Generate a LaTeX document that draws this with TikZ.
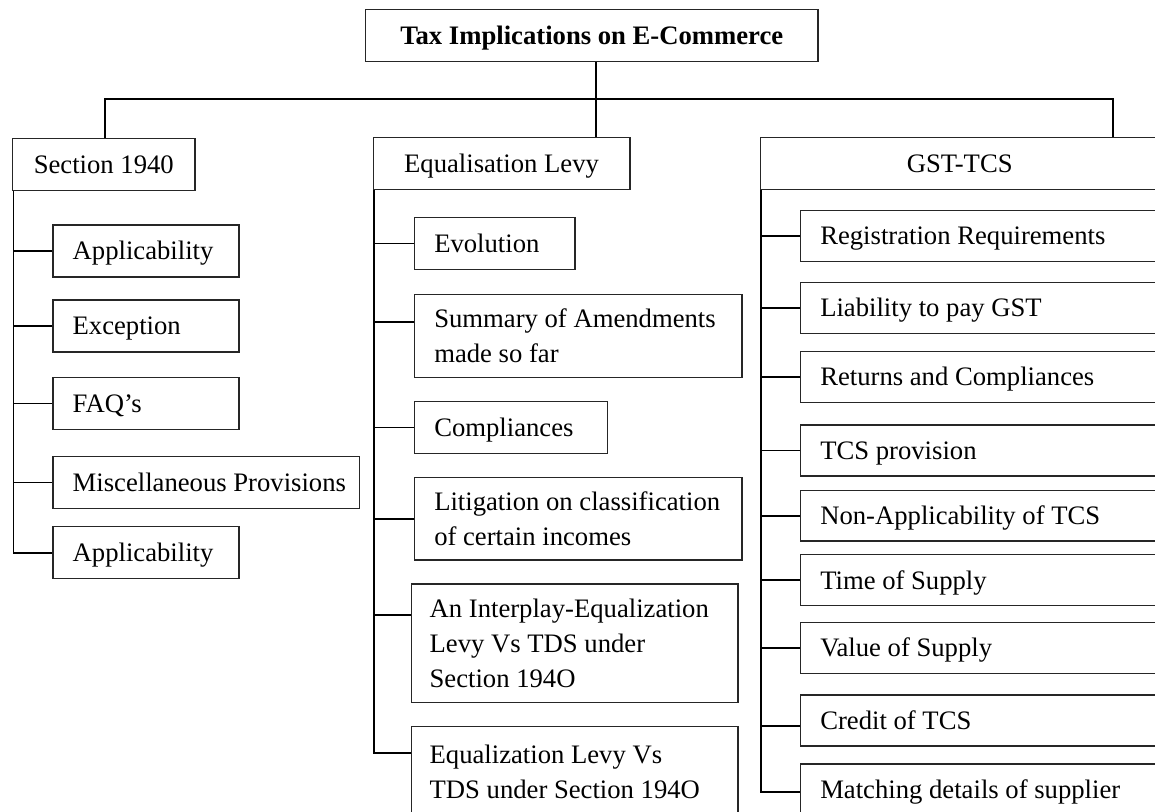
\documentclass[tikz,border=0pt]{standalone}
\usepackage{fontspec}
\setmainfont{Liberation Serif}
\usetikzlibrary{calc}
\begin{document}
\begin{tikzpicture}[x=0.75pt,y=-0.75pt,
  every node/.style={font=\fontsize{20}{26}\selectfont},
  box/.style 2 args={draw=black!85, line width=1.1pt, anchor=north west,
    inner sep=0pt, minimum width=#1, minimum height=#2,
    text height=15pt, text depth=1.8pt},
  lbl/.style={anchor=west, align=left, inner sep=0pt,
    text height=15pt, text depth=1.8pt},
  lbls/.style={anchor=west, align=left, inner sep=0pt},
  conn/.style={draw=black, line width=1.3pt}]
\useasboundingbox (0,0) rectangle (1155,812);
\fill[white] (0,0) rectangle (1155,812);
\clip (0,0) rectangle (1155,812);

% top level
\node[box={339.5pt}{39pt}] (title) at (364.7,9) {\textbf{Tax Implications on E-Commerce}};
\node[box={137pt}{39pt}] (sec) at (11.7,137.7) {Section 1940};
\node[box={192.4pt}{39pt}] (eq) at (372.5,136.7) {Equalisation Levy};
\node[box={299.25pt}{39pt}] (gst) at (759.5,136.7) {GST-TCS};

% bus between the title and the three heads
\coordinate (busL) at (105,99.3);
\coordinate (busM) at (595.7,99.3);
\coordinate (busR) at (1113,99.3);
\draw[conn] (busL |- sec.north) -- (busL) -- (busR) -- (busR |- gst.north);
\draw[conn] (busM |- title.south) -- (busM |- eq.north);

% Section 194O branch
\node[box={139.5pt}{39pt}] (app1) at (52.4,224.3) {};
\node[box={139.5pt}{39pt}] (exc)  at (52.4,299.3) {};
\node[box={139.5pt}{39pt}] (faq)  at (52.4,376.7) {};
\node[box={229.6pt}{39pt}] (misc) at (52.4,455.7) {};
\node[box={139.5pt}{39pt}] (app2) at (52.4,526) {};
\node[lbl] (app1t) at ([xshift=15pt]app1.west) {Applicability};
\node[lbl] (exct)  at ([xshift=15pt]exc.west) {Exception};
\node[lbl] (faqt)  at ([xshift=15pt]faq.west) {FAQ’s};
\node[lbl] (misct) at ([xshift=15pt]misc.west) {Miscellaneous Provisions};
\node[lbl] (app2t) at ([xshift=15pt]app2.west) {Applicability};

\coordinate (secT) at ($(sec.south west)+(1.7,0)$);
\draw[conn] (secT) -- (secT |- app2.west) -- (app2.west);
\foreach \n in {app1,exc,faq,misc}
  \draw[conn] (\n.west) -- (\n.west -| secT);

% Equalisation Levy branch
\node[box={120.2pt}{38.8pt}] (evo)   at (414,217) {};
\node[box={245.3pt}{62pt}]   (sum)   at (414,294) {};
\node[box={144.5pt}{39pt}]   (comp)  at (414,400.7) {};
\node[box={245.3pt}{62pt}]   (lit)   at (414,476.7) {};
\node[box={245pt}{89pt}]     (inter) at (410.7,583.3) {};
\node[box={245pt}{67.7pt}]   (eqvs)  at (410.7,725.7) {};
\node[lbl]  (evot)   at ([xshift=15pt]evo.west) {Evolution};
\node[lbls] (sumt)   at ([xshift=15pt]sum.west) {Summary of Amendments\\made so far};
\node[lbl]  (compt)  at ([xshift=15pt]comp.west) {Compliances};
\node[lbls] (litt)   at ([xshift=15pt]lit.west) {Litigation on classification\\of certain incomes};
\node[lbls] (intert) at ([xshift=14pt]inter.west) {An Interplay-Equalization\\Levy Vs TDS under\\Section 194O};
\node[lbls] (eqvst)  at ([xshift=14pt]eqvs.west) {Equalization Levy Vs\\TDS under Section 194O};

\coordinate (eqT) at ($(eq.south west)+(1.5,0)$);
\coordinate (sumJ) at ($(sum.north west)+(0,27.7)$);
\coordinate (interJ) at ($(inter.north west)+(0,31.7)$);
\coordinate (eqvsJ) at ($(eqvs.north west)+(0,27.6)$);
\draw[conn] (eqT) -- (eqT |- eqvsJ) -- (eqvsJ);
\foreach \n in {evo.west,sumJ,comp.west,lit.west,interJ}
  \draw[conn] (\n) -- (\n -| eqT);

% GST-TCS branch
\node[box={273.75pt}{38.2pt}] (reg)    at (800,210) {};
\node[box={273.75pt}{38.2pt}] (liab)   at (800,282) {};
\node[box={273.75pt}{38.2pt}] (ret)    at (800,351) {};
\node[box={273.75pt}{38.2pt}] (tcs)    at (800,424.3) {};
\node[box={273.75pt}{38.2pt}] (nonapp) at (800,489.5) {};
\node[box={273.75pt}{38.2pt}] (tos)    at (800,554) {};
\node[box={273.75pt}{38.2pt}] (vos)    at (800,621.7) {};
\node[box={273.75pt}{38.2pt}] (cred)   at (800,694.3) {};
\node[box={273.75pt}{38.2pt}] (match)  at (800,763.3) {};
\node[lbl] (regt)    at ([xshift=15pt]reg.west) {Registration Requirements};
\node[lbl] (liabt)   at ([xshift=15pt]liab.west) {Liability to pay GST};
\node[lbl] (rett)    at ([xshift=15pt]ret.west) {Returns and Compliances};
\node[lbl] (tcst)    at ([xshift=15pt]tcs.west) {TCS provision};
\node[lbl] (nonappt) at ([xshift=15pt]nonapp.west) {Non-Applicability of TCS};
\node[lbl] (tost)    at ([xshift=15pt]tos.west) {Time of Supply};
\node[lbl] (vost)    at ([xshift=15pt]vos.west) {Value of Supply};
\node[lbl] (credt)   at ([xshift=15pt]cred.west) {Credit of TCS};
\node[lbl] (matcht)  at ([xshift=15pt]match.west) {Matching details of supplier};

\coordinate (gstT) at ($(gst.south west)+(1.2,0)$);
\coordinate (credJ) at ($(cred.north west)+(0,31.4)$);
\coordinate (matchJ) at ($(match.north west)+(0,29)$);
\draw[conn] (gstT) -- (gstT |- matchJ) -- (matchJ);
\foreach \n in {reg.west,liab.west,ret.west,tcs.west,nonapp.west,tos.west,vos.west,credJ}
  \draw[conn] (\n) -- (\n -| gstT);
\end{tikzpicture}
\end{document}
